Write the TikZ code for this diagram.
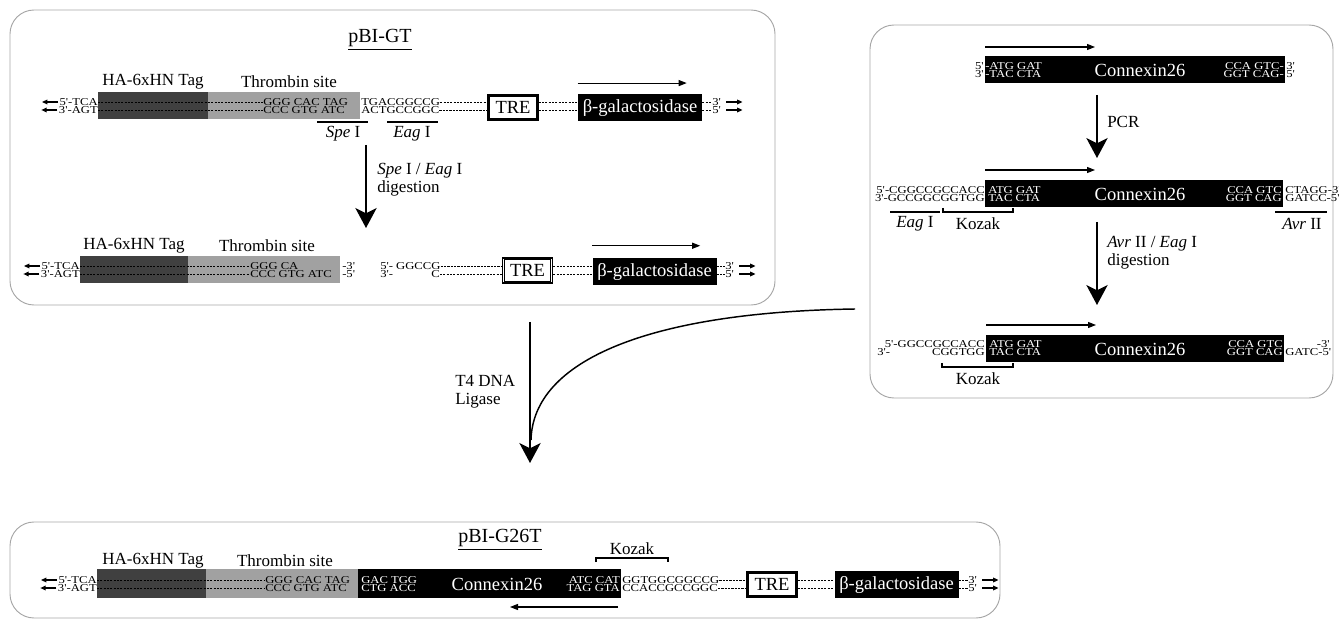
\documentclass[tikz,border=0pt]{standalone}
\usepackage{fontspec}
\setmainfont{Liberation Serif}
\newfontfamily\seqfont[FakeStretch=1.2]{Liberation Serif}
\usetikzlibrary{arrows.meta}
\begin{document}
\begin{tikzpicture}[x=0.75pt,y=-0.75pt,
  seq/.style={font={\seqfont\fontsize{7.9}{8}\selectfont}, inner sep=0pt, text height=5.3pt, text depth=0pt},
  seqw/.style={seq, text=white},
  lbl/.style={font={\fontsize{12.75}{13.5}\selectfont}, inner sep=0pt, align=left},
  ttl/.style={font={\fontsize{15}{18}\selectfont}, inner sep=0pt},
  boxtxt/.style={font={\fontsize{13.9}{16}\selectfont}, inner sep=0pt},
  panel/.style={draw=black!35, line width=0.7pt, rounded corners=18pt},
  dna/.style={line width=0.5pt, dash pattern=on 1.6pt off 0.9pt},
  tag/.style={fill=black!75},
  thr/.style={fill=black!37},
  blk/.style={fill=black},
  tre/.style={draw, line width=1pt, fill=white, inner sep=0pt, minimum width=37.5pt, minimum height=18.75pt, font={\fontsize{13.9}{16}\selectfont}},
  treinner/.style={draw, line width=0.7pt},
  gal/.style={fill=black, text=white, inner sep=0pt, minimum width=93pt, minimum height=20.25pt, font={\fontsize{13.9}{16}\selectfont}},
  gene/.style={line width=0.8pt, -{Triangle[length=6pt,width=4.5pt]}},
  endarr/.style={line width=0.9pt, -{Triangle[length=4pt,width=3.5pt]}},
  big/.style={line width=1.1pt, -{Stealth[length=15pt,width=16pt,inset=4pt]}},
  site/.style={line width=0.9pt},
]
\useasboundingbox (0,0) rectangle (1339,620);

% ================= Panel 1 : pBI-GT =================
\draw[panel] (10,10) rectangle (775,305);
\node[ttl] (t1) at (380,38) {pBI-GT};
\draw[line width=0.6pt] ([yshift=-2pt]t1.south west) -- ([yshift=-2pt]t1.south east);

% row 1
\fill[tag] (98,92) rectangle (208,119);
\fill[thr] (208,92) rectangle (360,119);
\node[lbl] (ha1) at (153,82) {HA-6xHN Tag};
\node[lbl] (th1) at (289,82) {Thrombin site};
\node[seq,anchor=east] (r1a) at (98,102) {5'-TCA};
\node[seq,anchor=east] (r1b) at (98,110) {3'-AGT};
\draw[endarr] ([xshift=-1pt]r1a.west) -- ++(-16,0);
\draw[endarr] ([xshift=-1pt]r1b.west) -- ++(-16,0);
\node[seq,anchor=west] (r1c) at (263,102) {GGG CAC TAG};
\node[seq,anchor=west] (r1d) at (263,110) {CCC GTG ATC};
\draw[dna] (r1a.east) -- (r1c.west);
\draw[dna] (r1b.east) -- (r1d.west);
\node[seq,anchor=west] (r1e) at (361,102) {TGACGGCCG};
\node[seq,anchor=west] (r1f) at (361,110) {ACTGCCGGC};
\node[tre] (tre1) at (513,107.5) {TRE};
\draw[treinner] ([shift={(2.5,2.5)}]tre1.north west) rectangle ([shift={(-2.5,-2.5)}]tre1.south east);
\node[gal] (gal1) at (640,107.5) {β-galactosidase};
\draw[dna] (r1e.east) -- (tre1.west |- r1e.east);
\draw[dna] (r1f.east) -- (tre1.west |- r1f.east);
\draw[dna] (tre1.east |- r1e.east) -- (gal1.west |- r1e.east);
\draw[dna] (tre1.east |- r1f.east) -- (gal1.west |- r1f.east);
\node[seq,anchor=west] (r1g) at (712,102) {3'};
\node[seq,anchor=west] (r1h) at (712,110) {5'};
\draw[dna] (gal1.east |- r1g.west) -- (r1g.west);
\draw[dna] (gal1.east |- r1h.west) -- (r1h.west);
\draw[endarr] ([xshift=4pt]r1g.east) -- ++(16,0);
\draw[endarr] ([xshift=4pt]r1h.east) -- ++(16,0);
\draw[gene] ([yshift=8pt]gal1.north west) -- ++(109,0);
\draw[site] (317,122) -- (368,122);
\draw[site] (387,122) -- (438,122);
\node[lbl] (spe) at (343,134) {\textit{Spe} I};
\node[lbl] (eag) at (412,134) {\textit{Eag} I};
\coordinate (d1s) at (366,145);
\coordinate (d1e) at (366,228);
\draw[big] (d1s) -- (d1e);
\node[lbl,anchor=north west] (dig1) at (377,163) {\textit{Spe} I / \textit{Eag} I\\digestion};

% row 2
\fill[tag] (80,256) rectangle (188,283);
\fill[thr] (188,256) rectangle (340,283);
\node[lbl] (ha2) at (134,246) {HA-6xHN Tag};
\node[lbl] (th2) at (267,246) {Thrombin site};
\node[seq,anchor=east] (r2a) at (80,266) {5'-TCA};
\node[seq,anchor=east] (r2b) at (80,274) {3'-AGT};
\draw[endarr] ([xshift=-1pt]r2a.west) -- ++(-16,0);
\draw[endarr] ([xshift=-1pt]r2b.west) -- ++(-16,0);
\node[seq,anchor=west] (r2c) at (250,266) {GGG CA};
\node[seq,anchor=west] (r2d) at (250,274) {CCC GTG ATC};
\draw[dna] (r2a.east) -- (r2c.west);
\draw[dna] (r2b.east) -- (r2d.west);
\node[seq,anchor=west] (r2e) at (342,266) {-3'};
\node[seq,anchor=west] (r2f) at (342,274) {-5'};
\node[seq,anchor=west] (r2g) at (380,266) {5'- GGCCG};
\node[seq,anchor=west] (r2h) at (380,274) {3'-};
\node[seq,anchor=east] (r2i) at (440,274) {C};
\node[tre] (tre2) at (527.5,270.5) {TRE};
\draw[treinner] ([shift={(2.5,2.5)}]tre2.north west) rectangle ([shift={(-2.5,-2.5)}]tre2.south east);
\node[gal] (gal2) at (654.5,271.5) {β-galactosidase};
\draw[dna] (r2g.east) -- (tre2.west |- r2g.east);
\draw[dna] (r2i.east) -- (tre2.west |- r2i.east);
\draw[dna] (tre2.east |- r2g.east) -- (gal2.west |- r2g.east);
\draw[dna] (tre2.east |- r2i.east) -- (gal2.west |- r2i.east);
\node[seq,anchor=west] (r2j) at (725,266) {3'};
\node[seq,anchor=west] (r2k) at (725,274) {5'};
\draw[dna] (gal2.east |- r2j.west) -- (r2j.west);
\draw[dna] (gal2.east |- r2k.west) -- (r2k.west);
\draw[endarr] ([xshift=4pt]r2j.east) -- ++(16,0);
\draw[endarr] ([xshift=4pt]r2k.east) -- ++(16,0);
\draw[gene] ([yshift=9pt]gal2.north west) -- ++(108,0);

% ================= Panel 2 : Connexin26 =================
\draw[panel] (870,25) rectangle (1333,398);
% row A
\fill[blk] (985,56) rectangle (1285,83);
\node[boxtxt,text=white] (cxA) at (1140,70) {Connexin26};
\node[seq,anchor=east] (aa) at (984,66) {5'};
\node[seq,anchor=east] (ab) at (984,74) {3'};
\node[seqw,anchor=west] (ac) at (985,66) {-ATG GAT};
\node[seqw,anchor=west] (ad) at (985,74) {-TAC CTA};
\node[seqw,anchor=east] (ae) at (1284,66) {CCA GTC-};
\node[seqw,anchor=east] (af) at (1284,74) {GGT CAG-};
\node[seq,anchor=west] (ag) at (1286,66) {3'};
\node[seq,anchor=west] (ah) at (1286,74) {5'};
\draw[gene] (985,47) -- (1095,47);
\coordinate (pcrS) at (1097,95);
\coordinate (pcrE) at (1097,158);
\draw[big] (pcrS) -- (pcrE);
\node[lbl,anchor=west] (pcr) at (1107,122) {PCR};
% row B
\fill[blk] (985,180) rectangle (1283,207);
\node[boxtxt,text=white] (cxB) at (1140,194) {Connexin26};
\node[seq,anchor=east] (ba) at (985,190) {5'-CGGCCGCCACC};
\node[seq,anchor=east] (bb) at (985,198) {3'-GCCGGCGGTGG};
\node[seqw,anchor=west] (bc) at (988,190) {ATG GAT};
\node[seqw,anchor=west] (bd) at (988,198) {TAC CTA};
\node[seqw,anchor=east] (be) at (1282,190) {CCA GTC};
\node[seqw,anchor=east] (bf) at (1282,198) {GGT CAG};
\node[seq,anchor=west] (bg) at (1285,190) {CTAGG-3'};
\node[seq,anchor=west] (bh) at (1285,198) {GATCC-5'};
\draw[gene] (985,170) -- (1095,170);
\draw[site] (890,212) -- (940,212);
\draw[site] (943,208) -- (943,212) -- (1013,212) -- (1013,208);
\draw[site] (1275,212) -- (1327,212);
\node[lbl] (eagB) at (915,224) {\textit{Eag} I};
\node[lbl] (kozB) at (978,224) {Kozak};
\node[lbl] (avrB) at (1302,224) {\textit{Avr} II};
\coordinate (avS) at (1097,222);
\coordinate (avE) at (1097,305);
\draw[big] (avS) -- (avE);
\node[lbl,anchor=north west] (dig2) at (1107,236) {\textit{Avr} II / \textit{Eag} I\\digestion};
% row C
\fill[blk] (986,335) rectangle (1284,362);
\node[boxtxt,text=white] (cxC) at (1140,349) {Connexin26};
\node[seq,anchor=east] (ca) at (985,344) {5'-GGCCGCCACC};
\node[seq,anchor=west] (cb) at (877,352) {3'-};
\node[seq,anchor=east] (cc) at (985,352) {CGGTGG};
\node[seqw,anchor=west] (cd) at (989,344) {ATG GAT};
\node[seqw,anchor=west] (ce) at (989,352) {TAC CTA};
\node[seqw,anchor=east] (cf) at (1283,344) {CCA GTC};
\node[seqw,anchor=east] (cg) at (1283,352) {GGT CAG};
\node[seq,anchor=east] (ch) at (1330,344) {-3'};
\node[seq,anchor=west] (ci) at (1285,352) {GATC-5'};
\draw[gene] (986,325) -- (1096,325);
\draw[site] (942,363) -- (942,367) -- (1013,367) -- (1013,363);
\node[lbl] (kozC) at (978,379) {Kozak};

% ================= ligation arrows =================
\coordinate (ligS) at (530,322);
\coordinate (ligE) at (530,463);
\coordinate (cvS) at (855,309);
\draw[big] (ligS) -- (ligE);
\draw[line width=1.1pt] (cvS) .. controls (650,312) and (533,360) .. (531,440);
\node[lbl,anchor=north west] (t4) at (455,375) {T4 DNA\\Ligase};

% ================= Panel 3 : pBI-G26T =================
\draw[panel] (10,522) rectangle (1000,618);
\node[ttl] (t3) at (500,538) {pBI-G26T};
\draw[line width=0.6pt] ([yshift=-2pt]t3.south west) -- ([yshift=-2pt]t3.south east);
\fill[tag] (97,569) rectangle (206,598);
\fill[thr] (206,569) rectangle (358,598);
\fill[blk] (358,569) rectangle (621,598);
\node[lbl] (ha3) at (153,561) {HA-6xHN Tag};
\node[lbl] (th3) at (285,561) {Thrombin site};
\node[seq,anchor=east] (pa) at (97,580) {5'-TCA};
\node[seq,anchor=east] (pb) at (97,588) {3'-AGT};
\draw[endarr] ([xshift=-1pt]pa.west) -- ++(-16,0);
\draw[endarr] ([xshift=-1pt]pb.west) -- ++(-16,0);
\node[seq,anchor=west] (pc) at (265,580) {GGG CAC TAG};
\node[seq,anchor=west] (pd) at (265,588) {CCC GTG ATC};
\draw[dna] (pa.east) -- (pc.west);
\draw[dna] (pb.east) -- (pd.west);
\node[seqw,anchor=west] (pe) at (361,580) {GAC TGG};
\node[seqw,anchor=west] (pf) at (361,588) {CTG ACC};
\node[boxtxt,text=white] (cx3) at (497,584) {Connexin26};
\node[seqw,anchor=east] (pg) at (620,580) {ATC CAT};
\node[seqw,anchor=east] (ph) at (620,588) {TAG GTA};
\node[seq,anchor=west] (pi) at (622,580) {GGTGGCGGCCG};
\node[seq,anchor=west] (pj) at (622,588) {CCACCGCCGGC};
\node[tre] (tre3) at (772,584.5) {TRE};
\draw[treinner] ([shift={(2.5,2.5)}]tre3.north west) rectangle ([shift={(-2.5,-2.5)}]tre3.south east);
\node[gal] (gal3) at (896.5,584.5) {β-galactosidase};
\draw[dna] (pi.east) -- (tre3.west |- pi.east);
\draw[dna] (pj.east) -- (tre3.west |- pj.east);
\draw[dna] (tre3.east |- pi.east) -- (gal3.west |- pi.east);
\draw[dna] (tre3.east |- pj.east) -- (gal3.west |- pj.east);
\node[seq,anchor=west] (pk) at (968,580) {3'};
\node[seq,anchor=west] (pl) at (968,588) {5'};
\draw[dna] (gal3.east |- pk.west) -- (pk.west);
\draw[dna] (gal3.east |- pl.west) -- (pl.west);
\draw[endarr] ([xshift=4pt]pk.east) -- ++(16,0);
\draw[endarr] ([xshift=4pt]pl.east) -- ++(16,0);
\draw[gene] (618,607) -- (510,607);
\draw[site] (596,562) -- (596,558) -- (668,558) -- (668,562);
\node[lbl] (koz3) at (632,549) {Kozak};
\end{tikzpicture}
\end{document}
